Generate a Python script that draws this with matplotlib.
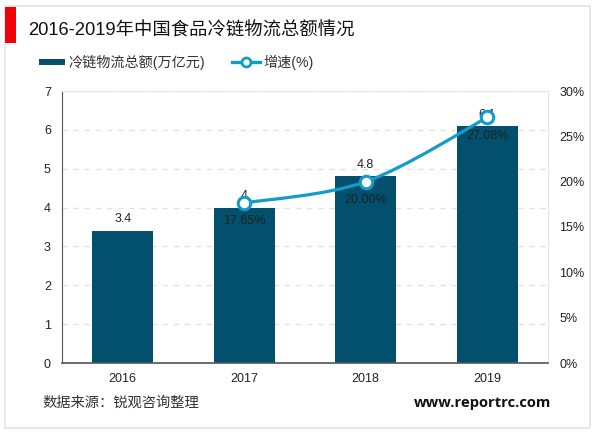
import numpy as np
import matplotlib
matplotlib.use('Agg')
import matplotlib.pyplot as plt
from matplotlib.patches import Rectangle, PathPatch
from matplotlib.path import Path

plt.rcParams['font.family'] = ['Liberation Sans', 'Noto Sans CJK SC', 'DejaVu Sans']

W, H = 600, 433

years = ['2016', '2017', '2018', '2019']
totals = [3.4, 4, 4.8, 6.1]
total_labels = ['3.4', '4', '4.8', '6.1']
growth_years = [1, 2, 3]
growth = [17.65, 20.00, 27.08]
growth_labels = ['17.65%', '20.00%', '27.08%']
left_ticks = [0, 1, 2, 3, 4, 5, 6, 7]
right_ticks = [0, 5, 10, 15, 20, 25, 30]

BAR = '#02506e'
LINE = '#129cc9'
GREY = '#e4e4e4'
TXT = '#222222'

fig = plt.figure(figsize=(W / 100, H / 100), dpi=100)

# outer frame and red title block, behind the axes
fig.add_artist(Rectangle((5 / W, 1 - 428 / H), 585 / W, 422 / H, transform=fig.transFigure,
                         fc='white', ec=GREY, lw=1.2, zorder=-5))
fig.add_artist(Rectangle((5 / W, 1 - 43 / H), 11 / W, 36 / H, transform=fig.transFigure,
                         fc='#f00008', ec='none', zorder=3))
fig.text(28 / W, 1 - 31 / H, '2016-2019年中国食品冷链物流总额情况', fontsize=13.2, color='#111111', va='center')

ax = fig.add_axes([62 / W, 1 - 363 / H, 486 / W, 272 / H])
ax.set_facecolor('none')
x = np.arange(len(years))
ax.bar(x, totals, width=0.5, color=BAR, zorder=2, label='冷链物流总额(万亿元)')
ax.set_xlim(-0.5, 3.5)
ax.set_ylim(0, 7)
ax.set_xticks(x, years)
ax.set_yticks(left_ticks)
ax.tick_params(length=0, labelsize=9, colors=TXT, pad=7)
ax.tick_params(axis='y', pad=8)
ax.yaxis.grid(True, color='#e2e2e2', ls=(0, (4, 4)), lw=1)
ax.set_axisbelow(True)
ax.spines['top'].set_color(GREY)
ax.spines['right'].set_color(GREY)
ax.spines['left'].set_color('#555555')
ax.spines['bottom'].set_color('#555555')
ax.spines['bottom'].set_linewidth(1.2)

for i, (v, s) in enumerate(zip(totals, total_labels)):
    ax.text(i, v + 0.14, s, ha='center', va='bottom', fontsize=9, color=TXT, zorder=6)

ax2 = ax.twinx()
ax2.set_ylim(0, 30)
ax2.set_yticks(right_ticks, [f'{t}%' for t in right_ticks])
ax2.tick_params(length=0, labelsize=9, colors=TXT, pad=8)
for s in ax2.spines.values():
    s.set_visible(False)

# smooth curve through the growth points
px = np.array(growth_years, dtype=float)
py = np.array(growth, dtype=float)
verts = [(px[0], py[0])]
codes = [Path.MOVETO]
for i in range(len(px) - 1):
    p0 = i - 1 if i > 0 else i
    p3 = i + 2 if i + 2 < len(px) else i + 1
    c1 = (px[i] + (px[i + 1] - px[p0]) / 6, py[i] + (py[i + 1] - py[p0]) / 6)
    c2 = (px[i + 1] - (px[p3] - px[i]) / 6, py[i + 1] - (py[p3] - py[i]) / 6)
    verts += [c1, c2, (px[i + 1], py[i + 1])]
    codes += [Path.CURVE4] * 3
ax2.add_patch(PathPatch(Path(verts, codes), fc='none', ec=LINE, lw=2.3, zorder=3, capstyle='round'))
ax2.plot(px, py, ls='none', marker='o', ms=9, mfc='white', mec=LINE, mew=2.2, zorder=4)

for xi, yi, s in zip(growth_years, growth, growth_labels):
    ax2.text(xi, yi - 1.35, s, ha='center', va='top', fontsize=9, color=TXT, zorder=6)

# legend drawn by hand so it sits where the reference has it
ly = 1 - 62 / H
fig.add_artist(Rectangle((39 / W, ly - 3 / H), 26 / W, 6 / H, transform=fig.transFigure, fc=BAR, ec='none'))
fig.text(68 / W, ly, '冷链物流总额(万亿元)', fontsize=10.2, color='#333333', va='center')
fig.add_artist(plt.Line2D([232 / W, 260 / W], [ly, ly], transform=fig.transFigure, color=LINE, lw=2.4))
fig.add_artist(plt.Line2D([246 / W], [ly], transform=fig.transFigure, marker='o', ms=6.5, mfc='white',
                          mec=LINE, mew=2, ls='none'))
fig.text(263 / W, ly, '增速(%)', fontsize=10.2, color='#333333', va='center')

fig.text(42 / W, 1 - 403 / H, '数据来源：锐观咨询整理', fontsize=10.3, color='#333333', va='center')
fig.text(551 / W, 1 - 403 / H, 'www.reportrc.com', fontsize=10.6, fontweight='bold', family='Open Sans',
         color='#111111', va='center', ha='right')

fig.savefig('out.png', dpi=100)
